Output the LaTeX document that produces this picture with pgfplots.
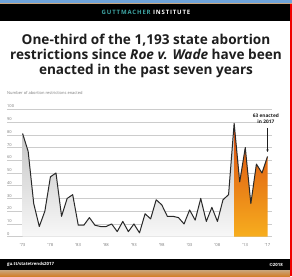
\documentclass[border=0pt]{standalone}
\usepackage{fontspec}
\setmainfont{Open Sans}
\usepackage{pgfplots}
\usepackage{pgfplotstable}
\pgfplotsset{compat=1.18}
\usetikzlibrary{arrows.meta}
\definecolor{gtteal}{HTML}{3FA7A6}
\definecolor{topblue}{HTML}{6FA3D8}
\definecolor{tanline}{HTML}{C9A67E}
\definecolor{frame}{HTML}{F00000}
\definecolor{ink}{HTML}{1E1E1E}
\definecolor{tick}{HTML}{7A7A7A}
\definecolor{orgtop}{HTML}{D9480F}
\definecolor{orgbot}{HTML}{F7AE1E}

\pgfplotstableread{
year val
1973 81
1974 67
1975 26
1976 8
1977 20
1978 47
1979 50
1980 16
1981 30
1982 33
1983 9
1984 9
1985 15
1986 9
1987 8
1988 8
1989 10
1990 4
1991 12
1992 4
1993 10
1994 3
1995 18
1996 14
1997 29
1998 25
1999 16
2000 16
2001 15
2002 10
2003 21
2004 13
2005 30
2006 12
2007 23
2008 12
2009 29
2010 33
2011 89
2012 43
2013 70
2014 26
2015 57
2016 50
2017 63
}\alldata

\pgfplotstableread{
year val
2011 89
2012 43
2013 70
2014 26
2015 57
2016 50
2017 63
}\recent

\begin{document}
\begin{tikzpicture}[x=1pt,y=1pt]
\useasboundingbox (0,0) rectangle (292,276);
\fill[white] (0,0) rectangle (292,276);
% top strips
\fill[topblue] (0,273) rectangle (292,276);
\fill[tanline] (0,272) rectangle (292,273);
\fill[black] (0,255) rectangle (290,272);
\node[font=\bfseries\fontsize{6}{7}\selectfont\addfontfeatures{LetterSpace=14}] at (146,263.5)
  {\textcolor{gtteal}{GUTTMACHER} \textcolor{white}{INSTITUTE}};
% title
\node[font=\bfseries\fontsize{13.6}{15}\selectfont, text=ink, align=center, inner sep=0pt] at (146,220.5)
  {One-third of the 1,193 state abortion\\restrictions since \textit{Roe v. Wade} have been\\enacted in the past seven years};
% axis label
\node[anchor=west, font=\fontsize{4}{5}\selectfont, text=tick, inner sep=0pt] at (7,183)
  {Number of abortion restrictions enacted};
% footer
\fill[black] (0,6) rectangle (290,17);
\shade[top color=tanline, bottom color=brown!70!orange] (0,0) rectangle (290,6);
\node[anchor=west, font=\bfseries\fontsize{4.3}{5}\selectfont, text=white, inner sep=0pt] at (7,11.5) {gu.tt/statetrends2017};
\node[anchor=east, font=\bfseries\fontsize{4.3}{5}\selectfont, text=white, inner sep=0pt] at (283,11.5) {©2018};
% red frame
\fill[frame] (289.5,0) rectangle (292,272);

\begin{axis}[
  at={(7pt,39.3pt)}, anchor=south west,
  scale only axis, width=265pt, height=127.4pt,
  xmin=1970.2, xmax=2017.8, ymin=0, ymax=100,
  axis line style={draw=none},
  major tick length=0pt,
  ymajorgrids, grid style={gray!40, line width=0.5pt},
  ytick={0,10,...,100},
  yticklabel style={anchor=south west, inner sep=0pt, yshift=1.2pt, font=\fontsize{4}{5}\selectfont, text=tick},
  xtick={1973,1978,1983,1988,1993,1998,2003,2008,2013,2017},
  xticklabels={'73,'78,'83,'88,'93,'98,'03,'08,'13,'17},
  xticklabel style={font=\fontsize{4.2}{5}\selectfont, text=tick, yshift=-3pt},
  /pgf/number format/assume math mode=true,
  clip=false,
]
\addplot[draw=none, top color=gray!48, bottom color=gray!6, restrict x to domain=1973:2011]
  table[x=year, y=val] {\alldata} \closedcycle;
\addplot[draw=none, top color=orgtop, bottom color=orgbot]
  table[x=year, y=val] {\recent} \closedcycle;
\addplot[color=ink!95, line width=1pt, line join=round, mark=none]
  table[x=year, y=val] {\alldata};
\node[font=\bfseries\fontsize{4.8}{5.6}\selectfont, text=ink, align=center] at (axis cs:2016.7,92.4) {63 enacted\\in 2017};
\draw[-{Stealth[length=2.6pt,width=2.4pt]}, line width=0.5pt, ink] (axis cs:2017,85.5) -- (axis cs:2017,66.5);
\end{axis}
\end{tikzpicture}
\end{document}
